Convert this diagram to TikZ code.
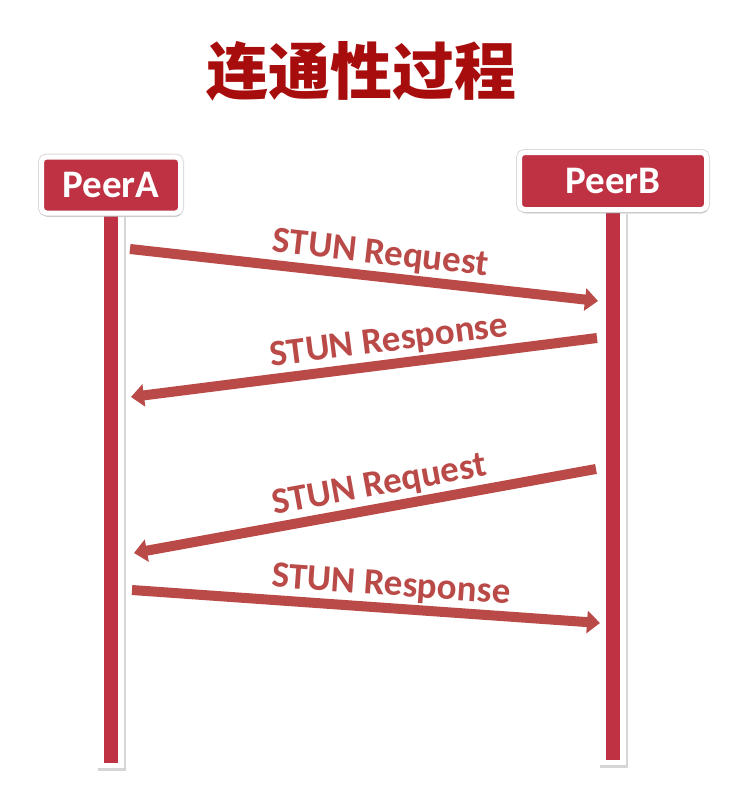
\documentclass[tikz,border=0pt]{standalone}
\usepackage{fontspec}
\setmainfont{Carlito}
\newfontfamily\cjk{Noto Sans CJK SC}
\usetikzlibrary{arrows.meta,shadows,backgrounds}
\definecolor{titlered}{HTML}{A80D0D}
\definecolor{peerred}{HTML}{BE3244}
\definecolor{msgred}{HTML}{BA4A47}

\begin{document}
\begin{tikzpicture}[x=1pt,y=-1pt,
  peer/.style={draw=white,line width=5pt,fill=peerred,rounded corners=5pt,
    text=white,font=\fontsize{39}{44}\selectfont\bfseries,
    preaction={draw=black!14,line width=7pt},
    drop shadow={shadow xshift=1pt,shadow yshift=-4pt,opacity=.25}},
  lifeline/.style={draw=peerred,line width=14pt,
    preaction={draw=white,line width=26pt,shorten >=-5pt,
      preaction={draw=black!16,line width=28pt,shorten >=-6pt,
        transform canvas={shift={(1pt,-1.5pt)}}}}},
  msg/.style={draw=msgred,line width=10pt,-{Triangle[length=13pt,width=22pt]}},
  msglabel/.style={text=msgred,font=\fontsize{37}{42}\selectfont\bfseries,
    sloped,above=7pt,inner sep=0pt,outer sep=0pt}]
  \useasboundingbox (0,0) rectangle (733,789);
  \node[text=titlered,font=\fontsize{62}{70}\selectfont\cjk\bfseries] (title) at (361,71) {连通性过程};
  \node[peer,minimum width=139pt,minimum height=56pt] (peerA) at (111,185) {PeerA};
  \node[peer,minimum width=187pt,minimum height=57pt] (peerB) at (613,181) {PeerB};
  \coordinate (endA) at (111,763);
  \coordinate (endB) at (613,760);
  \begin{pgfonlayer}{background}
    \fill[white] (0,0) rectangle (733,789);
    \draw[lifeline] (peerA) -- (endA);
    \draw[lifeline] (peerB) -- (endB);
  \end{pgfonlayer}
  \coordinate (a1s) at (130,249);
  \coordinate (a1e) at (598,301);
  \coordinate (a2s) at (597,338);
  \coordinate (a2e) at (131,397);
  \coordinate (a3s) at (596,469);
  \coordinate (a3e) at (134,553);
  \coordinate (a4s) at (132,590);
  \coordinate (a4e) at (600,623);
  \foreach \s/\e/\p/\t in {a1s/a1e/.53/STUN Request, a2s/a2e/.44/STUN Response,
                           a3s/a3e/.46/STUN Request, a4s/a4e/.55/STUN Response} {
    \draw[msg] (\s) -- node[msglabel,pos=\p] (lbl-\s) {\t} (\e);
  }
\end{tikzpicture}
\end{document}
